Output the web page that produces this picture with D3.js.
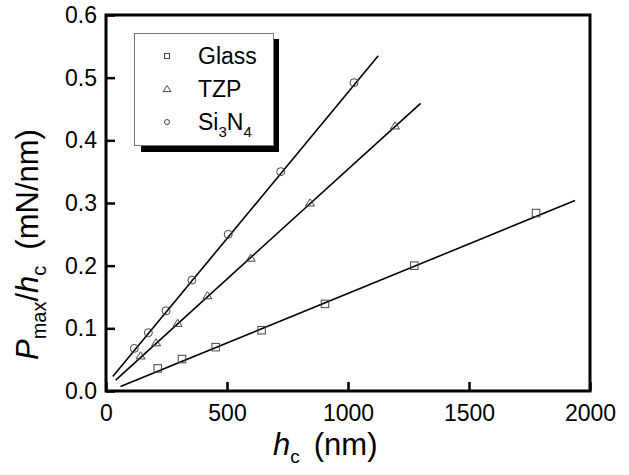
<!DOCTYPE html>
<html>
<head>
<meta charset="utf-8">
<script src="https://cdn.jsdelivr.net/npm/d3@7"></script>
<style>
  html, body { margin: 0; padding: 0; background: #fff; }
  svg { display: block; font-family: "Liberation Sans", Arial, Helvetica, sans-serif; }
</style>
</head>
<body>
<svg id="chart" width="629" height="475"></svg>
<script>
// Contact depth h_c (nm) and Pmax/h_c (mN/nm) for each material
const glassH = [214, 314, 453, 643, 905, 1274, 1777];
const glassV = [0.036, 0.051, 0.070, 0.097, 0.139, 0.200, 0.284];
const tzpH = [143, 207, 296, 419, 598, 843, 1194];
const tzpV = [0.056, 0.077, 0.108, 0.152, 0.212, 0.300, 0.423];
const siH = [117, 175, 248, 355, 505, 722, 1025];
const siV = [0.068, 0.093, 0.128, 0.177, 0.250, 0.350, 0.492];

// Linear fits: end points of each fitted line
const glassFitH = [60, 1938];
const glassFitV = [0.007, 0.304];
const tzpFitH = [40, 1300];
const tzpFitV = [0.0175, 0.459];
const siFitH = [28, 1125];
const siFitV = [0.023, 0.535];

const seriesNames = ["Glass", "TZP", "Si3N4"];
const xTicks = [0, 500, 1000, 1500, 2000];
const yTicks = [0, 0.1, 0.2, 0.3, 0.4, 0.5, 0.6];

const svg = d3.select("#chart");
const x = d3.scaleLinear().domain([0, 2000]).range([106, 590]);
const y = d3.scaleLinear().domain([0, 0.6]).range([391, 15]);

const zip = (a, b) => a.map((v, i) => [v, b[i]]);
const series = [
  { name: seriesNames[0], pts: zip(glassH, glassV), fit: zip(glassFitH, glassFitV), shape: "square" },
  { name: seriesNames[1], pts: zip(tzpH, tzpV), fit: zip(tzpFitH, tzpFitV), shape: "triangle" },
  { name: seriesNames[2], pts: zip(siH, siV), fit: zip(siFitH, siFitV), shape: "circle" }
];

// Axes with inward ticks
const xAxis = d3.axisBottom(x).tickValues(xTicks).tickFormat(d3.format("d"))
  .tickSizeInner(-9).tickSizeOuter(0).tickPadding(14);
const yAxis = d3.axisLeft(y).tickValues(yTicks).tickFormat(d3.format(".1f"))
  .tickSizeInner(-9).tickSizeOuter(0).tickPadding(9);

const gx = svg.append("g").attr("transform", `translate(0,${y(0)})`).call(xAxis);
const gy = svg.append("g").attr("transform", `translate(${x(0)},0)`).call(yAxis);
[gx, gy].forEach(g => {
  g.select(".domain").remove();
  g.selectAll(".tick line").attr("stroke", "#000").attr("stroke-width", 2.5);
  g.selectAll(".tick text").attr("fill", "#000").style("font-size", "23px")
    .style("font-family", "'Liberation Sans', Arial, sans-serif");
});

// Fit lines
const line = d3.line().x(d => x(d[0])).y(d => y(d[1]));
series.forEach(s => {
  svg.append("path").attr("d", line(s.fit))
    .attr("fill", "none").attr("stroke", "#000").attr("stroke-width", 1.6);
});

// Markers
function drawMarker(g, shape, cx, cy, size) {
  if (shape === "square") {
    g.append("rect").attr("x", cx - size / 2).attr("y", cy - size / 2)
      .attr("width", size).attr("height", size);
  } else if (shape === "triangle") {
    const h = size * 0.9;
    g.append("path").attr("d",
      `M${cx},${cy - h * 0.6}L${cx + size * 0.6},${cy + h * 0.45}L${cx - size * 0.6},${cy + h * 0.45}Z`);
  } else {
    g.append("circle").attr("cx", cx).attr("cy", cy).attr("r", size / 2);
  }
}
series.forEach(s => {
  const g = svg.append("g").attr("fill", "none").attr("stroke", "#444").attr("stroke-width", 1);
  s.pts.forEach(p => drawMarker(g, s.shape, x(p[0]), y(p[1]), s.shape === "circle" ? 8 : 7.5));
});

// Plot frame
svg.append("rect").attr("x", x(0)).attr("y", y(0.6))
  .attr("width", x(2000) - x(0)).attr("height", y(0) - y(0.6))
  .attr("fill", "none").attr("stroke", "#000").attr("stroke-width", 3);

// Legend with drop shadow
const lg = svg.append("g");
lg.append("rect").attr("x", 141).attr("y", 39).attr("width", 138).attr("height", 113).attr("fill", "#000");
lg.append("rect").attr("x", 134.5).attr("y", 33.5).attr("width", 139).attr("height", 112)
  .attr("fill", "#fff").attr("stroke", "#777").attr("stroke-width", 1);
const rowY = [56, 89, 122];
series.forEach((s, i) => {
  const mg = lg.append("g").attr("fill", "none").attr("stroke", "#444").attr("stroke-width", 1);
  drawMarker(mg, s.shape, 167, rowY[i], s.shape === "triangle" ? 6.5 : 5);
  const t = lg.append("text").attr("x", 198).attr("y", rowY[i] + 8)
    .style("font-size", "23px").attr("fill", "#000");
  if (s.name === "Si3N4") {
    t.append("tspan").text("Si");
    t.append("tspan").attr("dy", 7).style("font-size", "15px").text("3");
    t.append("tspan").attr("dy", -7).text("N");
    t.append("tspan").attr("dy", 7).style("font-size", "15px").text("4");
  } else {
    t.text(s.name);
  }
});

// Axis titles
const xt = svg.append("text").attr("x", 273).attr("y", 455).style("font-size", "31px").attr("fill", "#000");
xt.append("tspan").style("font-style", "italic").text("h");
xt.append("tspan").attr("dy", 8).style("font-size", "19px").text("c");
xt.append("tspan").attr("dy", -8).attr("dx", 14).text("(nm)");

const yt = svg.append("text").attr("transform", "translate(38,360) rotate(-90)")
  .style("font-size", "31px").attr("fill", "#000");
yt.append("tspan").style("font-style", "italic").text("P");
yt.append("tspan").attr("dy", 8).style("font-size", "20px").text("max");
yt.append("tspan").attr("dy", -8).text("/");
yt.append("tspan").style("font-style", "italic").text("h");
yt.append("tspan").attr("dy", 8).style("font-size", "20px").text("c");
yt.append("tspan").attr("dy", -8).attr("dx", 16).text("(mN/nm)");
</script>
</body>
</html>
